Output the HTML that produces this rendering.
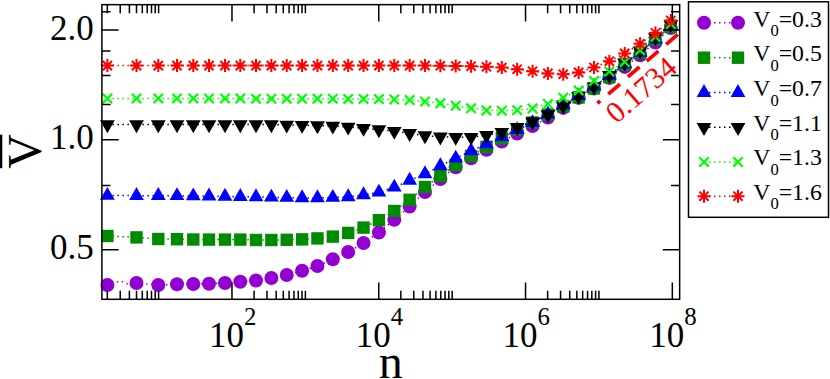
<!DOCTYPE html>
<html><head><meta charset="utf-8"><title>chart</title>
<style>html,body{margin:0;padding:0;background:#fff}body{width:830px;height:379px;overflow:hidden;font-family:"Liberation Serif",serif}</style>
</head><body>
<svg width="830" height="379" viewBox="0 0 830 379" style="display:block">
<rect width="830" height="379" fill="#fff"/>
<g id="series">
<polyline points="107.4,285 113,282.2 122,281.6 128,284.2 136.5,283 158.3,285 177,284.3 193.3,284 209,283.7 225,283 240.3,281.7 256,280.5 271.36,278 286.73,275 302.09,270.7 317.45,266 332.81,259.3 348.18,252 363.54,243 378.9,232.5 394.27,219.7 409.63,206.5 424.99,192 440.36,179 455.72,167.3 471.08,158.3 486.44,149.8 501.81,141.6 517.17,133.5 532.53,126.1 547.9,117.6 563.26,107.9 578.62,97.7 593.99,88.6 609.35,77.9 624.71,66.9 640.08,55.2 655.44,42.5 670.8,28" fill="none" stroke="#9400d3" stroke-width="1.5" stroke-dasharray="1.5 3.5"/>
<circle cx="107.4" cy="285" r="7" fill="#9400d3"/>
<circle cx="136.5" cy="283" r="7" fill="#9400d3"/>
<circle cx="158.3" cy="285" r="7" fill="#9400d3"/>
<circle cx="177" cy="284.3" r="7" fill="#9400d3"/>
<circle cx="193.3" cy="284" r="7" fill="#9400d3"/>
<circle cx="209" cy="283.7" r="7" fill="#9400d3"/>
<circle cx="225" cy="283" r="7" fill="#9400d3"/>
<circle cx="240.3" cy="281.7" r="7" fill="#9400d3"/>
<circle cx="256" cy="280.5" r="7" fill="#9400d3"/>
<circle cx="271.36" cy="278" r="7" fill="#9400d3"/>
<circle cx="286.73" cy="275" r="7" fill="#9400d3"/>
<circle cx="302.09" cy="270.7" r="7" fill="#9400d3"/>
<circle cx="317.45" cy="266" r="7" fill="#9400d3"/>
<circle cx="332.81" cy="259.3" r="7" fill="#9400d3"/>
<circle cx="348.18" cy="252" r="7" fill="#9400d3"/>
<circle cx="363.54" cy="243" r="7" fill="#9400d3"/>
<circle cx="378.9" cy="232.5" r="7" fill="#9400d3"/>
<circle cx="394.27" cy="219.7" r="7" fill="#9400d3"/>
<circle cx="409.63" cy="206.5" r="7" fill="#9400d3"/>
<circle cx="424.99" cy="192" r="7" fill="#9400d3"/>
<circle cx="440.36" cy="179" r="7" fill="#9400d3"/>
<circle cx="455.72" cy="167.3" r="7" fill="#9400d3"/>
<circle cx="471.08" cy="158.3" r="7" fill="#9400d3"/>
<circle cx="486.44" cy="149.8" r="7" fill="#9400d3"/>
<circle cx="501.81" cy="141.6" r="7" fill="#9400d3"/>
<circle cx="517.17" cy="133.5" r="7" fill="#9400d3"/>
<circle cx="532.53" cy="126.1" r="7" fill="#9400d3"/>
<circle cx="547.9" cy="117.6" r="7" fill="#9400d3"/>
<circle cx="563.26" cy="107.9" r="7" fill="#9400d3"/>
<circle cx="578.62" cy="97.7" r="7" fill="#9400d3"/>
<circle cx="593.99" cy="88.6" r="7" fill="#9400d3"/>
<circle cx="609.35" cy="77.9" r="7" fill="#9400d3"/>
<circle cx="624.71" cy="66.9" r="7" fill="#9400d3"/>
<circle cx="640.08" cy="55.2" r="7" fill="#9400d3"/>
<circle cx="655.44" cy="42.5" r="7" fill="#9400d3"/>
<circle cx="670.8" cy="28" r="7" fill="#9400d3"/>
<polyline points="107.4,236 136.5,237.4 158.3,239 177,239.2 193.3,239.5 209,239.6 225,239.6 240.3,239.6 256,240 271.36,240 286.73,239.8 302.09,239.4 317.45,238.4 332.81,236.6 348.18,232.9 363.54,227.6 378.9,220.2 394.27,211 409.63,199.8 424.99,187 440.36,176 455.72,165 471.08,156 486.44,147 501.81,138.4 517.17,129.5 532.53,122.5 547.9,114.5 563.26,106.3 578.62,97.4 593.99,88.4 609.35,77.2 624.71,64.6 640.08,52.9 655.44,39.8 670.8,27" fill="none" stroke="#008b00" stroke-width="1.5" stroke-dasharray="1.5 3.5"/>
<rect x="101.2" y="229.8" width="12.4" height="12.4" fill="#008b00"/>
<rect x="130.3" y="231.2" width="12.4" height="12.4" fill="#008b00"/>
<rect x="152.1" y="232.8" width="12.4" height="12.4" fill="#008b00"/>
<rect x="170.8" y="233" width="12.4" height="12.4" fill="#008b00"/>
<rect x="187.1" y="233.3" width="12.4" height="12.4" fill="#008b00"/>
<rect x="202.8" y="233.4" width="12.4" height="12.4" fill="#008b00"/>
<rect x="218.8" y="233.4" width="12.4" height="12.4" fill="#008b00"/>
<rect x="234.1" y="233.4" width="12.4" height="12.4" fill="#008b00"/>
<rect x="249.8" y="233.8" width="12.4" height="12.4" fill="#008b00"/>
<rect x="265.16" y="233.8" width="12.4" height="12.4" fill="#008b00"/>
<rect x="280.53" y="233.6" width="12.4" height="12.4" fill="#008b00"/>
<rect x="295.89" y="233.2" width="12.4" height="12.4" fill="#008b00"/>
<rect x="311.25" y="232.2" width="12.4" height="12.4" fill="#008b00"/>
<rect x="326.62" y="230.4" width="12.4" height="12.4" fill="#008b00"/>
<rect x="341.98" y="226.7" width="12.4" height="12.4" fill="#008b00"/>
<rect x="357.34" y="221.4" width="12.4" height="12.4" fill="#008b00"/>
<rect x="372.7" y="214" width="12.4" height="12.4" fill="#008b00"/>
<rect x="388.07" y="204.8" width="12.4" height="12.4" fill="#008b00"/>
<rect x="403.43" y="193.6" width="12.4" height="12.4" fill="#008b00"/>
<rect x="418.79" y="180.8" width="12.4" height="12.4" fill="#008b00"/>
<rect x="434.16" y="169.8" width="12.4" height="12.4" fill="#008b00"/>
<rect x="449.52" y="158.8" width="12.4" height="12.4" fill="#008b00"/>
<rect x="464.88" y="149.8" width="12.4" height="12.4" fill="#008b00"/>
<rect x="480.25" y="140.8" width="12.4" height="12.4" fill="#008b00"/>
<rect x="495.61" y="132.2" width="12.4" height="12.4" fill="#008b00"/>
<rect x="510.97" y="123.3" width="12.4" height="12.4" fill="#008b00"/>
<rect x="526.33" y="116.3" width="12.4" height="12.4" fill="#008b00"/>
<rect x="541.7" y="108.3" width="12.4" height="12.4" fill="#008b00"/>
<rect x="557.06" y="100.1" width="12.4" height="12.4" fill="#008b00"/>
<rect x="572.42" y="91.2" width="12.4" height="12.4" fill="#008b00"/>
<rect x="587.79" y="82.2" width="12.4" height="12.4" fill="#008b00"/>
<rect x="603.15" y="71" width="12.4" height="12.4" fill="#008b00"/>
<rect x="618.51" y="58.4" width="12.4" height="12.4" fill="#008b00"/>
<rect x="633.88" y="46.7" width="12.4" height="12.4" fill="#008b00"/>
<rect x="649.24" y="33.6" width="12.4" height="12.4" fill="#008b00"/>
<rect x="664.6" y="20.8" width="12.4" height="12.4" fill="#008b00"/>
<polyline points="107.4,195.5 136.5,195.6 158.3,195.7 177,195.8 193.3,196 209,196.2 225,196.4 240.3,196.6 256,196.9 271.36,197.3 286.73,197.5 302.09,197.9 317.45,197.9 332.81,197.5 348.18,196.9 363.54,194.9 378.9,192.3 394.27,187.3 409.63,180.4 424.99,173.9 440.36,165.9 455.72,158.3 471.08,150.9 486.44,144 501.81,136.8 517.17,129.8 532.53,122.8 547.9,114.3 563.26,105 578.62,95.8 593.99,86.3 609.35,75.5 624.71,64 640.08,52.4 655.44,39.3 670.8,26.2" fill="none" stroke="#0000ff" stroke-width="1.5" stroke-dasharray="1.5 3.5"/>
<path d="M107.4 186.9L114.8 199.8L100 199.8Z" fill="#0000ff"/>
<path d="M136.5 187L143.9 199.9L129.1 199.9Z" fill="#0000ff"/>
<path d="M158.3 187.1L165.7 200L150.9 200Z" fill="#0000ff"/>
<path d="M177 187.2L184.4 200.1L169.6 200.1Z" fill="#0000ff"/>
<path d="M193.3 187.4L200.7 200.3L185.9 200.3Z" fill="#0000ff"/>
<path d="M209 187.6L216.4 200.5L201.6 200.5Z" fill="#0000ff"/>
<path d="M225 187.8L232.4 200.7L217.6 200.7Z" fill="#0000ff"/>
<path d="M240.3 188L247.7 200.9L232.9 200.9Z" fill="#0000ff"/>
<path d="M256 188.3L263.4 201.2L248.6 201.2Z" fill="#0000ff"/>
<path d="M271.36 188.7L278.76 201.6L263.96 201.6Z" fill="#0000ff"/>
<path d="M286.73 188.9L294.13 201.8L279.33 201.8Z" fill="#0000ff"/>
<path d="M302.09 189.3L309.49 202.2L294.69 202.2Z" fill="#0000ff"/>
<path d="M317.45 189.3L324.85 202.2L310.05 202.2Z" fill="#0000ff"/>
<path d="M332.81 188.9L340.21 201.8L325.42 201.8Z" fill="#0000ff"/>
<path d="M348.18 188.3L355.58 201.2L340.78 201.2Z" fill="#0000ff"/>
<path d="M363.54 186.3L370.94 199.2L356.14 199.2Z" fill="#0000ff"/>
<path d="M378.9 183.7L386.3 196.6L371.5 196.6Z" fill="#0000ff"/>
<path d="M394.27 178.7L401.67 191.6L386.87 191.6Z" fill="#0000ff"/>
<path d="M409.63 171.8L417.03 184.7L402.23 184.7Z" fill="#0000ff"/>
<path d="M424.99 165.3L432.39 178.2L417.59 178.2Z" fill="#0000ff"/>
<path d="M440.36 157.3L447.76 170.2L432.96 170.2Z" fill="#0000ff"/>
<path d="M455.72 149.7L463.12 162.6L448.32 162.6Z" fill="#0000ff"/>
<path d="M471.08 142.3L478.48 155.2L463.68 155.2Z" fill="#0000ff"/>
<path d="M486.44 135.4L493.84 148.3L479.05 148.3Z" fill="#0000ff"/>
<path d="M501.81 128.2L509.21 141.1L494.41 141.1Z" fill="#0000ff"/>
<path d="M517.17 121.2L524.57 134.1L509.77 134.1Z" fill="#0000ff"/>
<path d="M532.53 114.2L539.93 127.1L525.13 127.1Z" fill="#0000ff"/>
<path d="M547.9 105.7L555.3 118.6L540.5 118.6Z" fill="#0000ff"/>
<path d="M563.26 96.4L570.66 109.3L555.86 109.3Z" fill="#0000ff"/>
<path d="M578.62 87.2L586.02 100.1L571.22 100.1Z" fill="#0000ff"/>
<path d="M593.99 77.7L601.39 90.6L586.59 90.6Z" fill="#0000ff"/>
<path d="M609.35 66.9L616.75 79.8L601.95 79.8Z" fill="#0000ff"/>
<path d="M624.71 55.4L632.11 68.3L617.31 68.3Z" fill="#0000ff"/>
<path d="M640.08 43.8L647.48 56.7L632.68 56.7Z" fill="#0000ff"/>
<path d="M655.44 30.7L662.84 43.6L648.04 43.6Z" fill="#0000ff"/>
<path d="M670.8 17.6L678.2 30.5L663.4 30.5Z" fill="#0000ff"/>
<polyline points="107.4,124.6 136.5,124.6 158.3,124.6 177,124.6 193.3,124.6 209,124.6 225,124.6 240.3,124.6 256,124.6 271.36,124.6 286.73,125 302.09,125.2 317.45,125.6 332.81,126 348.18,127 363.54,128.2 378.9,129.6 394.27,131.2 409.63,133.4 424.99,135.6 440.36,136.8 455.72,137.2 471.08,137.2 486.44,135.4 501.81,132.2 517.17,127.4 532.53,121.7 547.9,114.6 563.26,106 578.62,96.4 593.99,86.7 609.35,75.2 624.71,62.8 640.08,50.8 655.44,37.6 670.8,24.5" fill="none" stroke="#000000" stroke-width="1.5" stroke-dasharray="1.5 3.5"/>
<path d="M107.4 133.2L114.8 120.3L100 120.3Z" fill="#000000"/>
<path d="M136.5 133.2L143.9 120.3L129.1 120.3Z" fill="#000000"/>
<path d="M158.3 133.2L165.7 120.3L150.9 120.3Z" fill="#000000"/>
<path d="M177 133.2L184.4 120.3L169.6 120.3Z" fill="#000000"/>
<path d="M193.3 133.2L200.7 120.3L185.9 120.3Z" fill="#000000"/>
<path d="M209 133.2L216.4 120.3L201.6 120.3Z" fill="#000000"/>
<path d="M225 133.2L232.4 120.3L217.6 120.3Z" fill="#000000"/>
<path d="M240.3 133.2L247.7 120.3L232.9 120.3Z" fill="#000000"/>
<path d="M256 133.2L263.4 120.3L248.6 120.3Z" fill="#000000"/>
<path d="M271.36 133.2L278.76 120.3L263.96 120.3Z" fill="#000000"/>
<path d="M286.73 133.6L294.13 120.7L279.33 120.7Z" fill="#000000"/>
<path d="M302.09 133.8L309.49 120.9L294.69 120.9Z" fill="#000000"/>
<path d="M317.45 134.2L324.85 121.3L310.05 121.3Z" fill="#000000"/>
<path d="M332.81 134.6L340.21 121.7L325.42 121.7Z" fill="#000000"/>
<path d="M348.18 135.6L355.58 122.7L340.78 122.7Z" fill="#000000"/>
<path d="M363.54 136.8L370.94 123.9L356.14 123.9Z" fill="#000000"/>
<path d="M378.9 138.2L386.3 125.3L371.5 125.3Z" fill="#000000"/>
<path d="M394.27 139.8L401.67 126.9L386.87 126.9Z" fill="#000000"/>
<path d="M409.63 142L417.03 129.1L402.23 129.1Z" fill="#000000"/>
<path d="M424.99 144.2L432.39 131.3L417.59 131.3Z" fill="#000000"/>
<path d="M440.36 145.4L447.76 132.5L432.96 132.5Z" fill="#000000"/>
<path d="M455.72 145.8L463.12 132.9L448.32 132.9Z" fill="#000000"/>
<path d="M471.08 145.8L478.48 132.9L463.68 132.9Z" fill="#000000"/>
<path d="M486.44 144L493.84 131.1L479.05 131.1Z" fill="#000000"/>
<path d="M501.81 140.8L509.21 127.9L494.41 127.9Z" fill="#000000"/>
<path d="M517.17 136L524.57 123.1L509.77 123.1Z" fill="#000000"/>
<path d="M532.53 130.3L539.93 117.4L525.13 117.4Z" fill="#000000"/>
<path d="M547.9 123.2L555.3 110.3L540.5 110.3Z" fill="#000000"/>
<path d="M563.26 114.6L570.66 101.7L555.86 101.7Z" fill="#000000"/>
<path d="M578.62 105L586.02 92.1L571.22 92.1Z" fill="#000000"/>
<path d="M593.99 95.3L601.39 82.4L586.59 82.4Z" fill="#000000"/>
<path d="M609.35 83.8L616.75 70.9L601.95 70.9Z" fill="#000000"/>
<path d="M624.71 71.4L632.11 58.5L617.31 58.5Z" fill="#000000"/>
<path d="M640.08 59.4L647.48 46.5L632.68 46.5Z" fill="#000000"/>
<path d="M655.44 46.2L662.84 33.3L648.04 33.3Z" fill="#000000"/>
<path d="M670.8 33.1L678.2 20.2L663.4 20.2Z" fill="#000000"/>
<polyline points="107.4,98.4 136.5,98.4 158.3,98.4 177,98.4 193.3,98.4 209,98.4 225,98.4 240.3,98.4 256,98.7 271.36,98.7 286.73,98.7 302.09,98.7 317.45,98.7 332.81,98.7 348.18,98.9 363.54,98.9 378.9,99.1 394.27,99.5 409.63,100.1 424.99,101.5 440.36,103.2 455.72,105.7 471.08,108.3 486.44,110.4 501.81,110.7 517.17,110.2 532.53,108.5 547.9,104 563.26,97.7 578.62,90.4 593.99,81 609.35,71.5 624.71,62 640.08,50.3 655.44,36.8 670.8,24" fill="none" stroke="#00ff00" stroke-width="1.5" stroke-dasharray="1.5 3.5"/>
<path d="M102.7 93.7L112.1 103.1M102.7 103.1L112.1 93.7" stroke="#00ff00" stroke-width="2.2" fill="none"/>
<path d="M131.8 93.7L141.2 103.1M131.8 103.1L141.2 93.7" stroke="#00ff00" stroke-width="2.2" fill="none"/>
<path d="M153.6 93.7L163 103.1M153.6 103.1L163 93.7" stroke="#00ff00" stroke-width="2.2" fill="none"/>
<path d="M172.3 93.7L181.7 103.1M172.3 103.1L181.7 93.7" stroke="#00ff00" stroke-width="2.2" fill="none"/>
<path d="M188.6 93.7L198 103.1M188.6 103.1L198 93.7" stroke="#00ff00" stroke-width="2.2" fill="none"/>
<path d="M204.3 93.7L213.7 103.1M204.3 103.1L213.7 93.7" stroke="#00ff00" stroke-width="2.2" fill="none"/>
<path d="M220.3 93.7L229.7 103.1M220.3 103.1L229.7 93.7" stroke="#00ff00" stroke-width="2.2" fill="none"/>
<path d="M235.6 93.7L245 103.1M235.6 103.1L245 93.7" stroke="#00ff00" stroke-width="2.2" fill="none"/>
<path d="M251.3 94L260.7 103.4M251.3 103.4L260.7 94" stroke="#00ff00" stroke-width="2.2" fill="none"/>
<path d="M266.66 94L276.06 103.4M266.66 103.4L276.06 94" stroke="#00ff00" stroke-width="2.2" fill="none"/>
<path d="M282.03 94L291.43 103.4M282.03 103.4L291.43 94" stroke="#00ff00" stroke-width="2.2" fill="none"/>
<path d="M297.39 94L306.79 103.4M297.39 103.4L306.79 94" stroke="#00ff00" stroke-width="2.2" fill="none"/>
<path d="M312.75 94L322.15 103.4M312.75 103.4L322.15 94" stroke="#00ff00" stroke-width="2.2" fill="none"/>
<path d="M328.12 94L337.51 103.4M328.12 103.4L337.51 94" stroke="#00ff00" stroke-width="2.2" fill="none"/>
<path d="M343.48 94.2L352.88 103.6M343.48 103.6L352.88 94.2" stroke="#00ff00" stroke-width="2.2" fill="none"/>
<path d="M358.84 94.2L368.24 103.6M358.84 103.6L368.24 94.2" stroke="#00ff00" stroke-width="2.2" fill="none"/>
<path d="M374.2 94.4L383.6 103.8M374.2 103.8L383.6 94.4" stroke="#00ff00" stroke-width="2.2" fill="none"/>
<path d="M389.57 94.8L398.97 104.2M389.57 104.2L398.97 94.8" stroke="#00ff00" stroke-width="2.2" fill="none"/>
<path d="M404.93 95.4L414.33 104.8M404.93 104.8L414.33 95.4" stroke="#00ff00" stroke-width="2.2" fill="none"/>
<path d="M420.29 96.8L429.69 106.2M420.29 106.2L429.69 96.8" stroke="#00ff00" stroke-width="2.2" fill="none"/>
<path d="M435.66 98.5L445.06 107.9M435.66 107.9L445.06 98.5" stroke="#00ff00" stroke-width="2.2" fill="none"/>
<path d="M451.02 101L460.42 110.4M451.02 110.4L460.42 101" stroke="#00ff00" stroke-width="2.2" fill="none"/>
<path d="M466.38 103.6L475.78 113M466.38 113L475.78 103.6" stroke="#00ff00" stroke-width="2.2" fill="none"/>
<path d="M481.75 105.7L491.14 115.1M481.75 115.1L491.14 105.7" stroke="#00ff00" stroke-width="2.2" fill="none"/>
<path d="M497.11 106L506.51 115.4M497.11 115.4L506.51 106" stroke="#00ff00" stroke-width="2.2" fill="none"/>
<path d="M512.47 105.5L521.87 114.9M512.47 114.9L521.87 105.5" stroke="#00ff00" stroke-width="2.2" fill="none"/>
<path d="M527.83 103.8L537.23 113.2M527.83 113.2L537.23 103.8" stroke="#00ff00" stroke-width="2.2" fill="none"/>
<path d="M543.2 99.3L552.6 108.7M543.2 108.7L552.6 99.3" stroke="#00ff00" stroke-width="2.2" fill="none"/>
<path d="M558.56 93L567.96 102.4M558.56 102.4L567.96 93" stroke="#00ff00" stroke-width="2.2" fill="none"/>
<path d="M573.92 85.7L583.32 95.1M573.92 95.1L583.32 85.7" stroke="#00ff00" stroke-width="2.2" fill="none"/>
<path d="M589.29 76.3L598.69 85.7M589.29 85.7L598.69 76.3" stroke="#00ff00" stroke-width="2.2" fill="none"/>
<path d="M604.65 66.8L614.05 76.2M604.65 76.2L614.05 66.8" stroke="#00ff00" stroke-width="2.2" fill="none"/>
<path d="M620.01 57.3L629.41 66.7M620.01 66.7L629.41 57.3" stroke="#00ff00" stroke-width="2.2" fill="none"/>
<path d="M635.38 45.6L644.78 55M635.38 55L644.78 45.6" stroke="#00ff00" stroke-width="2.2" fill="none"/>
<path d="M650.74 32.1L660.14 41.5M650.74 41.5L660.14 32.1" stroke="#00ff00" stroke-width="2.2" fill="none"/>
<path d="M666.1 19.3L675.5 28.7M666.1 28.7L675.5 19.3" stroke="#00ff00" stroke-width="2.2" fill="none"/>
<polyline points="107.4,65.6 136.5,65.6 158.3,65.6 177,65.6 193.3,65.6 209,65.6 225,65.6 240.3,65.6 256,65.6 271.36,65.6 286.73,65.6 302.09,65.6 317.45,65.6 332.81,65.6 348.18,65.6 363.54,65.6 378.9,65.6 394.27,65.6 409.63,65.6 424.99,65.6 440.36,65.8 455.72,66 471.08,66.2 486.44,66.8 501.81,67.6 517.17,69.2 532.53,71.2 547.9,73.4 563.26,74.2 578.62,72.4 593.99,67.5 609.35,61.2 624.71,53.4 640.08,43.8 655.44,33 670.8,20.5" fill="none" stroke="#ff0000" stroke-width="1.5" stroke-dasharray="1.5 3.5"/>
<path d="M100.9 65.6L113.9 65.6M107.4 59.1L107.4 72.1M102.8 61L112 70.2M102.8 70.2L112 61" stroke="#ff0000" stroke-width="2" fill="none"/>
<path d="M130 65.6L143 65.6M136.5 59.1L136.5 72.1M131.9 61L141.1 70.2M131.9 70.2L141.1 61" stroke="#ff0000" stroke-width="2" fill="none"/>
<path d="M151.8 65.6L164.8 65.6M158.3 59.1L158.3 72.1M153.7 61L162.9 70.2M153.7 70.2L162.9 61" stroke="#ff0000" stroke-width="2" fill="none"/>
<path d="M170.5 65.6L183.5 65.6M177 59.1L177 72.1M172.4 61L181.6 70.2M172.4 70.2L181.6 61" stroke="#ff0000" stroke-width="2" fill="none"/>
<path d="M186.8 65.6L199.8 65.6M193.3 59.1L193.3 72.1M188.7 61L197.9 70.2M188.7 70.2L197.9 61" stroke="#ff0000" stroke-width="2" fill="none"/>
<path d="M202.5 65.6L215.5 65.6M209 59.1L209 72.1M204.4 61L213.6 70.2M204.4 70.2L213.6 61" stroke="#ff0000" stroke-width="2" fill="none"/>
<path d="M218.5 65.6L231.5 65.6M225 59.1L225 72.1M220.4 61L229.6 70.2M220.4 70.2L229.6 61" stroke="#ff0000" stroke-width="2" fill="none"/>
<path d="M233.8 65.6L246.8 65.6M240.3 59.1L240.3 72.1M235.7 61L244.9 70.2M235.7 70.2L244.9 61" stroke="#ff0000" stroke-width="2" fill="none"/>
<path d="M249.5 65.6L262.5 65.6M256 59.1L256 72.1M251.4 61L260.6 70.2M251.4 70.2L260.6 61" stroke="#ff0000" stroke-width="2" fill="none"/>
<path d="M264.86 65.6L277.86 65.6M271.36 59.1L271.36 72.1M266.77 61L275.96 70.2M266.77 70.2L275.96 61" stroke="#ff0000" stroke-width="2" fill="none"/>
<path d="M280.23 65.6L293.23 65.6M286.73 59.1L286.73 72.1M282.13 61L291.32 70.2M282.13 70.2L291.32 61" stroke="#ff0000" stroke-width="2" fill="none"/>
<path d="M295.59 65.6L308.59 65.6M302.09 59.1L302.09 72.1M297.49 61L306.69 70.2M297.49 70.2L306.69 61" stroke="#ff0000" stroke-width="2" fill="none"/>
<path d="M310.95 65.6L323.95 65.6M317.45 59.1L317.45 72.1M312.86 61L322.05 70.2M312.86 70.2L322.05 61" stroke="#ff0000" stroke-width="2" fill="none"/>
<path d="M326.31 65.6L339.31 65.6M332.81 59.1L332.81 72.1M328.22 61L337.41 70.2M328.22 70.2L337.41 61" stroke="#ff0000" stroke-width="2" fill="none"/>
<path d="M341.68 65.6L354.68 65.6M348.18 59.1L348.18 72.1M343.58 61L352.77 70.2M343.58 70.2L352.77 61" stroke="#ff0000" stroke-width="2" fill="none"/>
<path d="M357.04 65.6L370.04 65.6M363.54 59.1L363.54 72.1M358.94 61L368.14 70.2M358.94 70.2L368.14 61" stroke="#ff0000" stroke-width="2" fill="none"/>
<path d="M372.4 65.6L385.4 65.6M378.9 59.1L378.9 72.1M374.31 61L383.5 70.2M374.31 70.2L383.5 61" stroke="#ff0000" stroke-width="2" fill="none"/>
<path d="M387.77 65.6L400.77 65.6M394.27 59.1L394.27 72.1M389.67 61L398.86 70.2M389.67 70.2L398.86 61" stroke="#ff0000" stroke-width="2" fill="none"/>
<path d="M403.13 65.6L416.13 65.6M409.63 59.1L409.63 72.1M405.03 61L414.23 70.2M405.03 70.2L414.23 61" stroke="#ff0000" stroke-width="2" fill="none"/>
<path d="M418.49 65.6L431.49 65.6M424.99 59.1L424.99 72.1M420.4 61L429.59 70.2M420.4 70.2L429.59 61" stroke="#ff0000" stroke-width="2" fill="none"/>
<path d="M433.86 65.8L446.86 65.8M440.36 59.3L440.36 72.3M435.76 61.2L444.95 70.4M435.76 70.4L444.95 61.2" stroke="#ff0000" stroke-width="2" fill="none"/>
<path d="M449.22 66L462.22 66M455.72 59.5L455.72 72.5M451.12 61.4L460.32 70.6M451.12 70.6L460.32 61.4" stroke="#ff0000" stroke-width="2" fill="none"/>
<path d="M464.58 66.2L477.58 66.2M471.08 59.7L471.08 72.7M466.49 61.6L475.68 70.8M466.49 70.8L475.68 61.6" stroke="#ff0000" stroke-width="2" fill="none"/>
<path d="M479.94 66.8L492.94 66.8M486.44 60.3L486.44 73.3M481.85 62.2L491.04 71.4M481.85 71.4L491.04 62.2" stroke="#ff0000" stroke-width="2" fill="none"/>
<path d="M495.31 67.6L508.31 67.6M501.81 61.1L501.81 74.1M497.21 63L506.4 72.2M497.21 72.2L506.4 63" stroke="#ff0000" stroke-width="2" fill="none"/>
<path d="M510.67 69.2L523.67 69.2M517.17 62.7L517.17 75.7M512.57 64.6L521.77 73.8M512.57 73.8L521.77 64.6" stroke="#ff0000" stroke-width="2" fill="none"/>
<path d="M526.03 71.2L539.03 71.2M532.53 64.7L532.53 77.7M527.94 66.6L537.13 75.8M527.94 75.8L537.13 66.6" stroke="#ff0000" stroke-width="2" fill="none"/>
<path d="M541.4 73.4L554.4 73.4M547.9 66.9L547.9 79.9M543.3 68.8L552.49 78M543.3 78L552.49 68.8" stroke="#ff0000" stroke-width="2" fill="none"/>
<path d="M556.76 74.2L569.76 74.2M563.26 67.7L563.26 80.7M558.66 69.6L567.86 78.8M558.66 78.8L567.86 69.6" stroke="#ff0000" stroke-width="2" fill="none"/>
<path d="M572.12 72.4L585.12 72.4M578.62 65.9L578.62 78.9M574.03 67.8L583.22 77M574.03 77L583.22 67.8" stroke="#ff0000" stroke-width="2" fill="none"/>
<path d="M587.49 67.5L600.49 67.5M593.99 61L593.99 74M589.39 62.9L598.58 72.1M589.39 72.1L598.58 62.9" stroke="#ff0000" stroke-width="2" fill="none"/>
<path d="M602.85 61.2L615.85 61.2M609.35 54.7L609.35 67.7M604.75 56.6L613.95 65.8M604.75 65.8L613.95 56.6" stroke="#ff0000" stroke-width="2" fill="none"/>
<path d="M618.21 53.4L631.21 53.4M624.71 46.9L624.71 59.9M620.12 48.8L629.31 58M620.12 58L629.31 48.8" stroke="#ff0000" stroke-width="2" fill="none"/>
<path d="M633.58 43.8L646.58 43.8M640.08 37.3L640.08 50.3M635.48 39.2L644.67 48.4M635.48 48.4L644.67 39.2" stroke="#ff0000" stroke-width="2" fill="none"/>
<path d="M648.94 33L661.94 33M655.44 26.5L655.44 39.5M650.84 28.4L660.03 37.6M650.84 37.6L660.03 28.4" stroke="#ff0000" stroke-width="2" fill="none"/>
<path d="M664.3 20.5L677.3 20.5M670.8 14L670.8 27M666.2 15.9L675.4 25.1M666.2 25.1L675.4 15.9" stroke="#ff0000" stroke-width="2" fill="none"/>
</g>
<path d="M608.3 94.16L619.89 84.17M627.9 76.86L639.49 66.87M646.8 61.06L658.39 51.07M666.2 44.36L677.79 34.37M597.44 103.28L600.16 100.92" stroke="#ff0000" stroke-width="3.7" fill="none"/>
<text transform="translate(616.5 124.5) rotate(-41)" font-family="Liberation Serif, serif" font-size="30" fill="#ff0000">0.1734</text>
<g stroke="#000" stroke-width="1.5" fill="none">
<rect x="101.9" y="4.65" width="577.75" height="294.65"/>
<path d="M107.29 299.3v-8.6M107.29 4.65v8.6M120.22 299.3v-8.6M120.22 4.65v8.6M129.39 299.3v-8.6M129.39 4.65v8.6M136.5 299.3v-8.6M136.5 4.65v8.6M142.31 299.3v-8.6M142.31 4.65v8.6M147.22 299.3v-8.6M147.22 4.65v8.6M151.48 299.3v-8.6M151.48 4.65v8.6M155.23 299.3v-8.6M155.23 4.65v8.6M158.59 299.3v-8.6M158.59 4.65v8.6M231.98 299.3v-16.8M231.98 4.65v16.8M254.07 299.3v-8.6M254.07 4.65v8.6M267 299.3v-8.6M267 4.65v8.6M276.17 299.3v-8.6M276.17 4.65v8.6M283.28 299.3v-8.6M283.28 4.65v8.6M289.09 299.3v-8.6M289.09 4.65v8.6M294 299.3v-8.6M294 4.65v8.6M298.26 299.3v-8.6M298.26 4.65v8.6M302.01 299.3v-8.6M302.01 4.65v8.6M305.37 299.3v-8.6M305.37 4.65v8.6M378.76 299.3v-16.8M378.76 4.65v16.8M400.85 299.3v-8.6M400.85 4.65v8.6M413.78 299.3v-8.6M413.78 4.65v8.6M422.95 299.3v-8.6M422.95 4.65v8.6M430.06 299.3v-8.6M430.06 4.65v8.6M435.87 299.3v-8.6M435.87 4.65v8.6M440.78 299.3v-8.6M440.78 4.65v8.6M445.04 299.3v-8.6M445.04 4.65v8.6M448.79 299.3v-8.6M448.79 4.65v8.6M452.15 299.3v-8.6M452.15 4.65v8.6M525.54 299.3v-16.8M525.54 4.65v16.8M547.63 299.3v-8.6M547.63 4.65v8.6M560.56 299.3v-8.6M560.56 4.65v8.6M569.73 299.3v-8.6M569.73 4.65v8.6M576.84 299.3v-8.6M576.84 4.65v8.6M582.65 299.3v-8.6M582.65 4.65v8.6M587.56 299.3v-8.6M587.56 4.65v8.6M591.82 299.3v-8.6M591.82 4.65v8.6M595.57 299.3v-8.6M595.57 4.65v8.6M598.93 299.3v-8.6M598.93 4.65v8.6M672.32 299.3v-16.8M672.32 4.65v16.8M101.9 11.7h8.6M679.65 11.7h-8.6M101.9 29.9h16.8M679.65 29.9h-16.8M101.9 51.07h8.6M679.65 51.07h-8.6M101.9 75.51h8.6M679.65 75.51h-8.6M101.9 104.42h8.6M679.65 104.42h-8.6M101.9 139.8h16.8M679.65 139.8h-16.8M101.9 185.41h8.6M679.65 185.41h-8.6M101.9 249.7h16.8M679.65 249.7h-16.8"/>
</g>
<g font-family="Liberation Serif, serif" fill="#000">
<text x="93.8" y="39.5" font-size="35" text-anchor="end">2.0</text>
<text x="93.8" y="149.4" font-size="35" text-anchor="end">1.0</text>
<text x="93.8" y="259.3" font-size="35" text-anchor="end">0.5</text>
<text x="208.88" y="346.6" font-size="35">10<tspan font-size="24.85" dy="-21.4">2</tspan></text>
<text x="355.66" y="346.6" font-size="35">10<tspan font-size="24.85" dy="-21.4">4</tspan></text>
<text x="502.44" y="346.6" font-size="35">10<tspan font-size="24.85" dy="-21.4">6</tspan></text>
<text x="649.22" y="346.6" font-size="35">10<tspan font-size="24.85" dy="-21.4">8</tspan></text>
<text x="390.8" y="377.5" font-size="48" text-anchor="middle">n</text>
<text transform="translate(41.2 168.8) rotate(-90)" font-size="48">V</text>
<rect x="-1" y="134.6" width="3.3" height="33.6"/>
</g>
<rect x="688.5" y="1.8" width="140" height="215.5" fill="#fff" stroke="#000" stroke-width="1.5"/>
<g font-family="Liberation Serif, serif" fill="#000">
<path d="M704 22.7L738 22.7" stroke="#9400d3" stroke-width="1.5" stroke-dasharray="1.5 3.5" fill="none"/>
<circle cx="704" cy="22.7" r="7" fill="#9400d3"/>
<circle cx="738" cy="22.7" r="7" fill="#9400d3"/>
<text x="753.2" y="26.5" font-size="23.8">V<tspan font-size="16.6" dy="9.5">0</tspan><tspan dy="-9.5">=0.3</tspan></text>
<path d="M704 57.7L738 57.7" stroke="#008b00" stroke-width="1.5" stroke-dasharray="1.5 3.5" fill="none"/>
<rect x="697.8" y="51.5" width="12.4" height="12.4" fill="#008b00"/>
<rect x="731.8" y="51.5" width="12.4" height="12.4" fill="#008b00"/>
<text x="753.2" y="61.2" font-size="23.8">V<tspan font-size="16.6" dy="9.5">0</tspan><tspan dy="-9.5">=0.5</tspan></text>
<path d="M704 92.6L738 92.6" stroke="#0000ff" stroke-width="1.5" stroke-dasharray="1.5 3.5" fill="none"/>
<path d="M704 84L711.4 96.9L696.6 96.9Z" fill="#0000ff"/>
<path d="M738 84L745.4 96.9L730.6 96.9Z" fill="#0000ff"/>
<text x="753.2" y="96" font-size="23.8">V<tspan font-size="16.6" dy="9.5">0</tspan><tspan dy="-9.5">=0.7</tspan></text>
<path d="M704 127.3L738 127.3" stroke="#000000" stroke-width="1.5" stroke-dasharray="1.5 3.5" fill="none"/>
<path d="M704 135.9L711.4 123L696.6 123Z" fill="#000000"/>
<path d="M738 135.9L745.4 123L730.6 123Z" fill="#000000"/>
<text x="753.2" y="130.6" font-size="23.8">V<tspan font-size="16.6" dy="9.5">0</tspan><tspan dy="-9.5">=1.1</tspan></text>
<path d="M704 161.9L738 161.9" stroke="#00ff00" stroke-width="1.5" stroke-dasharray="1.5 3.5" fill="none"/>
<path d="M699.3 157.2L708.7 166.6M699.3 166.6L708.7 157.2" stroke="#00ff00" stroke-width="2.2" fill="none"/>
<path d="M733.3 157.2L742.7 166.6M733.3 166.6L742.7 157.2" stroke="#00ff00" stroke-width="2.2" fill="none"/>
<text x="753.2" y="165.1" font-size="23.8">V<tspan font-size="16.6" dy="9.5">0</tspan><tspan dy="-9.5">=1.3</tspan></text>
<path d="M704 196.2L738 196.2" stroke="#ff0000" stroke-width="1.5" stroke-dasharray="1.5 3.5" fill="none"/>
<path d="M697.5 196.2L710.5 196.2M704 189.7L704 202.7M699.4 191.6L708.6 200.8M699.4 200.8L708.6 191.6" stroke="#ff0000" stroke-width="2" fill="none"/>
<path d="M731.5 196.2L744.5 196.2M738 189.7L738 202.7M733.4 191.6L742.6 200.8M733.4 200.8L742.6 191.6" stroke="#ff0000" stroke-width="2" fill="none"/>
<text x="753.2" y="199.6" font-size="23.8">V<tspan font-size="16.6" dy="9.5">0</tspan><tspan dy="-9.5">=1.6</tspan></text>
</g>
</svg>
</body></html>
